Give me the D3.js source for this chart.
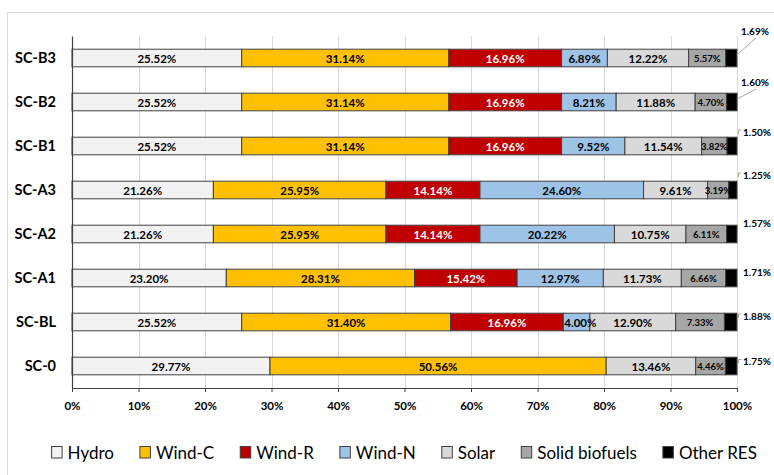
<!DOCTYPE html>
<html>
<head>
<meta charset="utf-8">
<script src="https://cdn.jsdelivr.net/npm/d3@7"></script>
<style>
  html, body { margin: 0; padding: 0; background: #ffffff; }
  svg { display: block; font-family: Lato, "Open Sans", sans-serif; }
</style>
</head>
<body>
<svg id="chart" width="774" height="475"></svg>
<script>
// Scenario categories, top to bottom
const categories = ["SC-B3", "SC-B2", "SC-B1", "SC-A3", "SC-A2", "SC-A1", "SC-BL", "SC-0"];

// Share of each renewable source per scenario (%)
const seriesNames = ["Hydro", "Wind-C", "Wind-R", "Wind-N", "Solar", "Solid biofuels", "Other RES"];
const hydro    = [25.52, 25.52, 25.52, 21.26, 21.26, 23.20, 25.52, 29.77];
const windC    = [31.14, 31.14, 31.14, 25.95, 25.95, 28.31, 31.40, 50.56];
const windR    = [16.96, 16.96, 16.96, 14.14, 14.14, 15.42, 16.96, 0];
const windN    = [6.89, 8.21, 9.52, 24.60, 20.22, 12.97, 4.00, 0];
const solar    = [12.22, 11.88, 11.54, 9.61, 10.75, 11.73, 12.90, 13.46];
const biofuels = [5.57, 4.70, 3.82, 3.19, 6.11, 6.66, 7.33, 4.46];
const otherRes = [1.69, 1.60, 1.50, 1.25, 1.57, 1.71, 1.88, 1.75];

const xTicks = [0, 10, 20, 30, 40, 50, 60, 70, 80, 90, 100];

// Styling per series
const seriesColors = ["#f2f2f2", "#ffc000", "#c00000", "#9dc3e6", "#d9d9d9", "#a6a6a6", "#000000"];
const labelColors  = ["#000", "#000", "#fff", "#000", "#000", "#000", "#000"];
const labelSizes   = [11.5, 11.5, 11.5, 11.5, 11.5, 9.5, 10];

// Placement of the outside "Other RES" labels (vertical nudge and leader style)
const otherLabelDy = [-27, -20, -14.5, -15.5, -10.7, -5.8, -6.5, -5];
const otherLeader  = ["diag", "diag", "elbow", "elbow", "none", "none", "elbow", "elbow"];

const seriesValues = [hydro, windC, windR, windN, solar, biofuels, otherRes];
const rows = categories.map((c, i) => {
  const r = { category: c };
  seriesNames.forEach((s, j) => { r[s] = seriesValues[j][i]; });
  return r;
});

const svg = d3.select("#chart");
svg.append("rect").attr("width", 774).attr("height", 475).attr("fill", "#fff");
// chart area frame
svg.append("rect")
  .attr("x", 7.5).attr("y", 12.5).attr("width", 820).attr("height", 520)
  .attr("fill", "none").attr("stroke", "#d9d9d9");

const plot = { left: 72, right: 737, top: 36, bottom: 388 };

const x = d3.scaleLinear().domain([0, 100]).range([plot.left, plot.right]);
const y = d3.scaleBand().domain(categories).range([plot.top, plot.bottom])
  .paddingInner(0.6).paddingOuter(0.3);

// vertical gridlines
svg.append("g").selectAll("line")
  .data(xTicks.filter(t => t > 0))
  .join("line")
  .attr("x1", d => Math.round(x(d)) + 0.5).attr("x2", d => Math.round(x(d)) + 0.5)
  .attr("y1", plot.top).attr("y2", plot.bottom)
  .attr("stroke", "#d9d9d9").attr("stroke-width", 1);

// stacked bars
const stack = d3.stack().keys(seriesNames);
const layers = stack(rows);

const barG = svg.append("g");
layers.forEach((layer, li) => {
  barG.append("g")
    .selectAll("rect")
    .data(layer.filter(d => d[1] - d[0] > 0))
    .join("rect")
    .attr("x", d => x(d[0]))
    .attr("y", d => y(d.data.category))
    .attr("width", d => x(d[1]) - x(d[0]))
    .attr("height", y.bandwidth())
    .attr("fill", seriesColors[li])
    .attr("stroke", "#404040")
    .attr("stroke-width", 1);
});

// axes
const xAxis = d3.axisBottom(x).tickValues(xTicks).tickFormat(d => d + "%")
  .tickSizeInner(4).tickSizeOuter(0).tickPadding(10);
const gx = svg.append("g").attr("transform", `translate(0,${plot.bottom})`).call(xAxis);
gx.select(".domain").attr("stroke", "#404040").attr("stroke-width", 1.2);
gx.selectAll(".tick line").attr("stroke", "#404040");
gx.selectAll(".tick text")
  .attr("fill", "#000").attr("font-size", 11.5).attr("font-weight", "bold")
  .attr("font-family", "Lato, sans-serif");

const yAxis = d3.axisLeft(y).tickSize(0).tickPadding(16);
const gy = svg.append("g").attr("transform", `translate(${plot.left},0)`).call(yAxis);
gy.select(".domain").attr("stroke", "#404040").attr("stroke-width", 1.2);
gy.selectAll(".tick text")
  .attr("fill", "#000").attr("font-size", 14.5).attr("font-weight", "bold")
  .attr("font-family", "Lato, sans-serif");

// in-bar value labels (all series except Other RES)
const labelG = svg.append("g").attr("font-weight", "bold");
layers.forEach((layer, li) => {
  if (seriesNames[li] === "Other RES") return;
  labelG.append("g")
    .selectAll("text")
    .data(layer.filter(d => d[1] - d[0] > 0))
    .join("text")
    .attr("x", d => x((d[0] + d[1]) / 2))
    .attr("y", d => y(d.data.category) + y.bandwidth() / 2)
    .attr("text-anchor", "middle")
    .attr("dominant-baseline", "central")
    .attr("font-size", labelSizes[li])
    .attr("fill", labelColors[li])
    .text(d => (d[1] - d[0]).toFixed(2) + "%")
    .each(function (d) {
      // labels wider than their segment start at the segment's left edge
      const w = this.getComputedTextLength();
      const x0 = x(d[0]);
      const cx = x((d[0] + d[1]) / 2);
      if (cx - w / 2 < x0 + 1 && li !== 5) d3.select(this).attr("x", x0 + 1 + w / 2);
    });
});

// Other RES labels outside the bar end, with leader lines
const otherIdx = seriesNames.indexOf("Other RES");
const otherLayer = layers[otherIdx];
const outG = svg.append("g");
otherLayer.forEach((d, i) => {
  const yc = y(d.data.category) + y.bandwidth() / 2;
  const ly = yc + otherLabelDy[i];
  const lx = otherLeader[i] === "diag" ? x(d[1]) + 4 : x(d[1]) + 6;
  outG.append("text")
    .attr("x", lx).attr("y", ly)
    .attr("dominant-baseline", "central")
    .attr("font-size", labelSizes[otherIdx]).attr("font-weight", "bold")
    .attr("fill", "#000")
    .text(otherRes[i].toFixed(2) + "%");
  if (otherLeader[i] === "diag") {
    outG.append("line")
      .attr("x1", x(d[1])).attr("y1", yc - 3)
      .attr("x2", lx + 15).attr("y2", ly + 7)
      .attr("stroke", "#a6a6a6").attr("stroke-width", 1);
  } else if (otherLeader[i] === "elbow") {
    outG.append("path")
      .attr("d", `M${lx - 1.5},${ly - 1.5}H${x(d[1]) + 1.5}V${ly + 2.5}`)
      .attr("fill", "none").attr("stroke", "#a6a6a6").attr("stroke-width", 1);
  }
});

// legend
const legend = svg.append("g").attr("font-size", 17).attr("fill", "#000");
let cursor = 0;
seriesNames.forEach((name, i) => {
  const g = legend.append("g");
  g.append("rect")
    .attr("x", 0.5).attr("y", -5.5).attr("width", 10.5).attr("height", 11.5)
    .attr("fill", seriesColors[i]).attr("stroke", "#404040").attr("stroke-width", 1);
  const t = g.append("text")
    .attr("x", 16.5).attr("y", 0).attr("dominant-baseline", "central")
    .text(name);
  const w = 16.5 + t.node().getComputedTextLength();
  g.attr("transform", `translate(${cursor},0)`);
  cursor += w + 25.5;
});
const legendWidth = cursor - 25.5;
legend.attr("transform", `translate(${404 - legendWidth / 2},452)`);
</script>
</body>
</html>
